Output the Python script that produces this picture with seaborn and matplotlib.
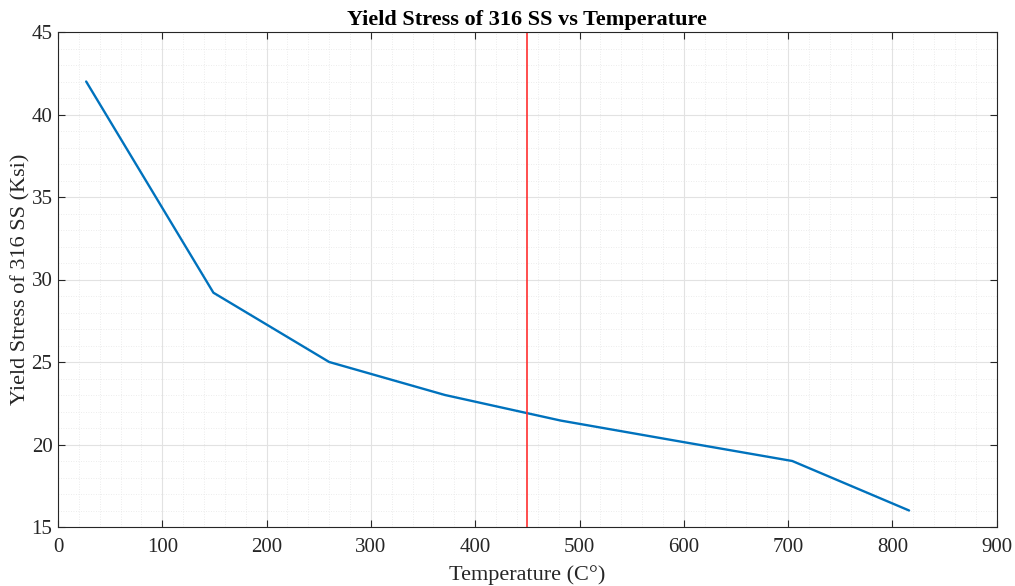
import matplotlib
matplotlib.use("Agg")
import matplotlib.pyplot as plt
import seaborn as sns
import pandas as pd
from matplotlib.ticker import MultipleLocator

temperature_c = [27, 149, 260, 371, 482, 593, 704, 816]
yield_stress_ksi = [42.0, 29.2, 25.0, 23.0, 21.45, 20.22, 19.0, 16.0]
marker_temp = 450

x_ticks = [0, 100, 200, 300, 400, 500, 600, 700, 800, 900]
y_ticks = [15, 20, 25, 30, 35, 40, 45]

title = "Yield Stress of 316 SS vs Temperature"
xlabel = "Temperature (C°)"
ylabel = "Yield Stress of 316 SS (Ksi)"

sns.set_style("ticks")
plt.rcParams["font.family"] = ["Liberation Serif", "DejaVu Serif"]

df = pd.DataFrame({"T": temperature_c, "S": yield_stress_ksi})

fig = plt.figure(figsize=(10.15, 5.86), dpi=100)
ax = fig.add_axes([58 / 1015, 1 - 527 / 586, (996.7 - 58) / 1015, (527 - 32) / 586])

ax.set_xlim(0, 900)
ax.set_ylim(15, 45)
ax.set_xticks(x_ticks)
ax.set_yticks(y_ticks)
ax.xaxis.set_minor_locator(MultipleLocator(20))
ax.yaxis.set_minor_locator(MultipleLocator(1))

ax.grid(which="major", color="#e2e2e2", linewidth=0.8, linestyle="-")
ax.grid(which="minor", color="#e6e6e6", linewidth=0.6, linestyle=(0, (1, 2)))
ax.set_axisbelow(True)

sns.lineplot(data=df, x="T", y="S", ax=ax, color="#0072BD", linewidth=1.7)
ax.axvline(marker_temp, color="#ff3030", linewidth=1.2)

for s in ax.spines.values():
    s.set_color("#262626")
    s.set_linewidth(0.8)

ax.tick_params(which="major", direction="in", length=5, width=0.8, color="#262626",
               top=True, right=True, labelsize=15, labelcolor="#262626")
ax.tick_params(axis="x", which="major", pad=8)
ax.tick_params(axis="y", which="major", pad=4)
ax.tick_params(which="minor", length=0, top=True, right=True)

ax.set_title(title, fontsize=16, fontweight="bold", color="black", pad=5)
ax.set_xlabel(xlabel, fontsize=16, color="#262626", labelpad=6)
ax.set_ylabel(ylabel, fontsize=16, color="#262626", labelpad=1)

fig.savefig("out.png", dpi=100)
